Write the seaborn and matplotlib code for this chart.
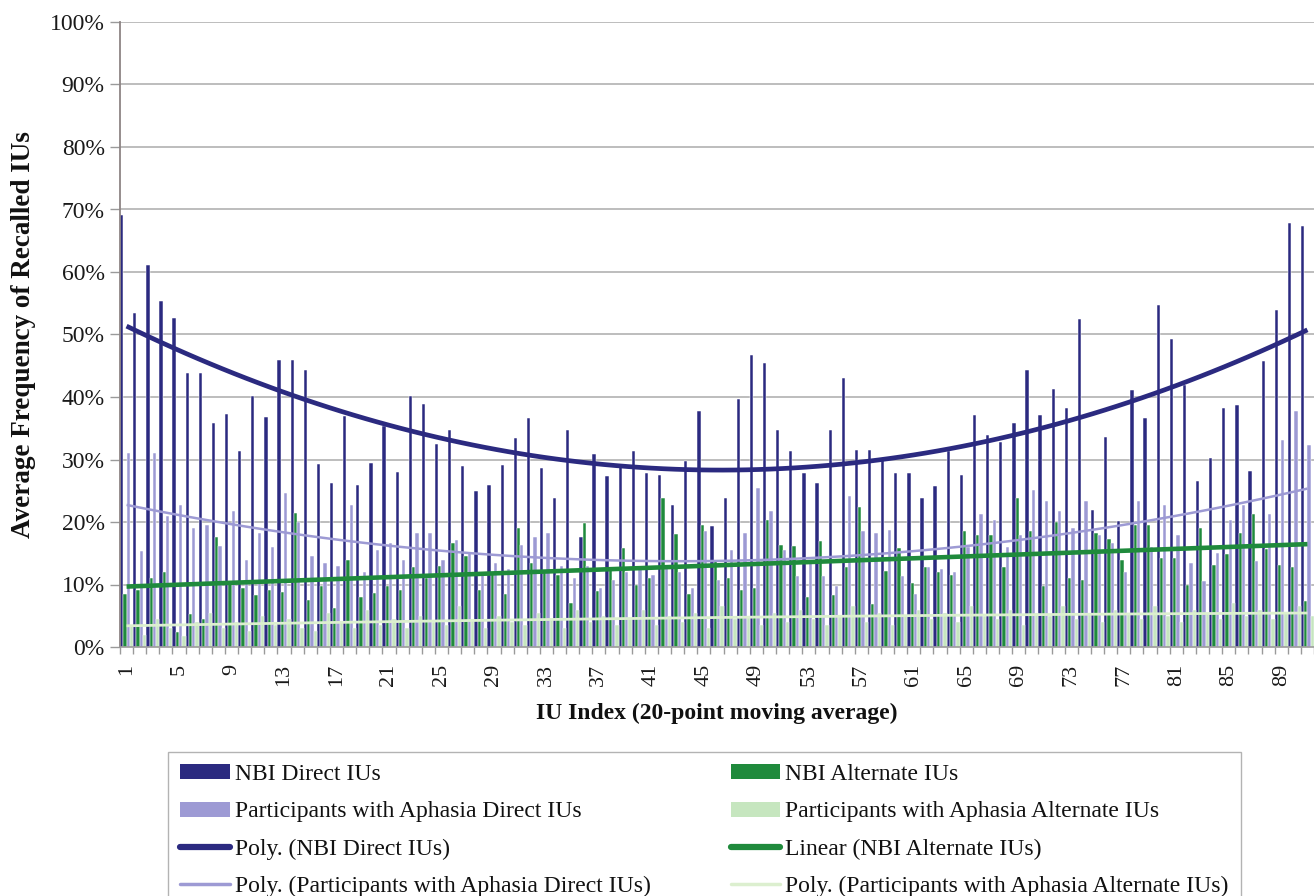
import numpy as np
import pandas as pd
import matplotlib
matplotlib.use("Agg")
import matplotlib.pyplot as plt
import seaborn as sns
from matplotlib.patches import Patch
from matplotlib.lines import Line2D
from matplotlib.ticker import FuncFormatter

# ---------------- data (values in %) ----------------
iu_index = list(range(1, 92))

nbi_direct = [
    69.1, 53.4, 61.1, 55.3, 52.6, 43.8, 43.9, 35.8, 37.2, 31.4,
    40.2, 36.8, 45.9, 45.9, 44.3, 29.3, 26.3, 37.0, 25.9, 29.4,
    35.3, 28.0, 40.2, 38.9, 32.5, 34.7, 28.9, 25.0, 25.9, 29.1,
    33.4, 36.6, 28.6, 23.9, 34.7, 17.6, 30.9, 27.4, 28.8, 31.3,
    27.9, 27.5, 22.7, 29.8, 37.7, 19.4, 23.8, 39.6, 46.7, 45.5,
    34.8, 31.3, 27.8, 26.3, 34.8, 43.1, 31.6, 31.5, 29.9, 27.9,
    27.9, 23.8, 25.8, 31.3, 27.5, 37.1, 33.9, 32.8, 35.8, 44.3,
    37.1, 41.2, 38.2, 52.5, 21.9, 33.6, 20.1, 41.1, 36.6, 54.7,
    49.2, 41.9, 26.6, 30.3, 38.2, 38.7, 28.1, 45.7, 53.9, 67.9,
    67.3,
]

nbi_alternate = [
    8.5, 9.1, 11.0, 12.0, 2.4, 5.3, 4.5, 17.6, 10.3, 9.4,
    8.3, 9.1, 8.8, 21.4, 7.5, 9.7, 6.3, 14.0, 8.0, 8.6,
    9.7, 9.1, 12.8, 11.0, 13.0, 16.6, 14.5, 9.1, 12.0, 8.5,
    19.0, 13.5, 12.0, 11.5, 7.0, 19.9, 9.0, 12.5, 15.8, 10.0,
    11.0, 23.8, 18.1, 8.5, 19.5, 14.0, 11.0, 9.1, 9.4, 20.3,
    16.4, 16.2, 8.0, 16.9, 8.3, 12.8, 22.4, 6.9, 12.1, 15.8,
    10.3, 12.8, 12.0, 11.5, 18.5, 18.0, 18.0, 12.8, 23.8, 18.5,
    9.7, 20.0, 11.0, 10.8, 18.2, 17.3, 13.9, 19.6, 19.5, 14.2,
    14.2, 9.9, 19.0, 13.1, 14.9, 18.2, 21.3, 15.7, 13.1, 12.8,
    7.4,
]

aphasia_direct = [
    31.0, 15.4, 31.0, 21.0, 22.7, 19.0, 19.5, 16.1, 21.7, 14.0,
    18.2, 16.0, 24.7, 20.0, 14.5, 13.5, 13.0, 22.7, 12.0, 15.5,
    16.6, 14.0, 18.3, 18.3, 14.0, 17.1, 15.0, 12.0, 13.5, 12.5,
    16.4, 17.6, 18.3, 13.0, 11.0, 13.0, 9.4, 10.8, 12.0, 12.5,
    11.5, 13.0, 12.0, 9.4, 18.5, 10.8, 15.6, 18.2, 25.4, 21.7,
    15.5, 11.3, 13.4, 11.3, 9.7, 24.2, 18.5, 18.2, 18.8, 11.3,
    8.5, 12.8, 12.5, 12.0, 16.0, 21.3, 20.3, 16.0, 18.0, 25.1,
    23.3, 21.7, 19.0, 23.3, 18.0, 16.7, 12.0, 23.3, 16.0, 22.7,
    17.9, 13.5, 10.5, 15.0, 20.3, 22.7, 13.7, 21.3, 33.1, 37.7,
    32.3,
]

aphasia_alternate = [
    3.5, 2.0, 4.5, 3.0, 1.8, 4.0, 5.5, 3.0, 4.0, 2.5,
    5.0, 3.5, 4.5, 3.0, 2.5, 5.5, 4.0, 3.0, 6.0, 3.5,
    4.5, 3.0, 5.0, 4.0, 3.5, 6.5, 4.5, 3.0, 5.0, 4.0,
    3.5, 5.5, 4.5, 3.0, 6.0, 4.0, 5.0, 3.5, 4.5, 6.0,
    3.5, 5.0, 4.0, 5.5, 3.0, 6.5, 4.5, 5.0, 3.5, 5.5,
    4.0, 6.0, 4.5, 3.5, 5.0, 6.5, 4.0, 5.5, 3.5, 5.0,
    6.0, 4.5, 5.5, 4.0, 6.5, 5.0, 4.5, 6.0, 3.5, 5.5,
    5.0, 6.5, 4.5, 5.5, 4.0, 6.0, 5.5, 4.5, 6.5, 5.0,
    4.0, 6.0, 5.5, 4.5, 7.0, 5.0, 6.0, 4.5, 5.5, 6.5,
    5.0,
]

series_names = [
    "NBI Direct IUs",
    "NBI Alternate IUs",
    "Participants with Aphasia Direct IUs",
    "Participants with Aphasia Alternate IUs",
]
trend_names = [
    "Poly. (NBI Direct IUs)",
    "Linear (NBI Alternate IUs)",
    "Poly. (Participants with Aphasia Direct IUs)",
    "Poly. (Participants with Aphasia Alternate IUs)",
]

c_navy = "#2B2A80"
c_green = "#1F8A3C"
c_lpurple = "#9D9AD4"
c_lgreen = "#C6E6BF"
c_lgreen_line = "#DCEFCF"
bar_colors = [c_navy, c_green, c_lpurple, c_lgreen]

# ---------------- style ----------------
sns.set_theme(style="white")
plt.rcParams["font.family"] = ["Liberation Serif", "DejaVu Serif"]

W, H = 1314, 896
fig = plt.figure(figsize=(W / 100, H / 100), dpi=100)
fig.patch.set_facecolor("white")
ax = fig.add_axes([120 / W, 1 - 647 / H, 1 - 120 / W, 625 / H])
ax.set_facecolor("white")

labels_str = [str(v) for v in iu_index]
df = pd.DataFrame({
    "IU": labels_str * 4,
    "series": sum([[n] * len(iu_index) for n in series_names], []),
    "value": nbi_direct + nbi_alternate + aphasia_direct + aphasia_alternate,
})

sns.barplot(
    data=df, x="IU", y="value", hue="series",
    order=labels_str, hue_order=series_names, palette=bar_colors,
    width=1.0, saturation=1, edgecolor="white", linewidth=0.35,
    errorbar=None, legend=False, ax=ax, zorder=2,
)

pos = np.arange(len(iu_index))
trend_specs = [
    (nbi_direct, 2, c_navy, 3.4),
    (nbi_alternate, 1, c_green, 3.3),
    (aphasia_direct, 2, c_lpurple, 1.8),
    (aphasia_alternate, 2, c_lgreen_line, 2.0),
]
for vals, order, col, lw in trend_specs:
    sns.regplot(
        x=pos, y=np.array(vals), order=order, ci=None, scatter=False,
        truncate=True, ax=ax,
        line_kws=dict(color=col, lw=lw, zorder=6, solid_capstyle="butt"),
    )

# ---------------- axes ----------------
ax.set_xlim(-0.5, 89.95)
ax.set_ylim(0, 100)
ax.set_yticks(np.arange(0, 101, 10))
ax.yaxis.set_major_formatter(FuncFormatter(lambda v, p: f"{v:.0f}%"))
ax.set_xticks(pos[::4])
ax.set_xticklabels(labels_str[::4], rotation=90, fontsize=16)
ax.set_xticks(np.arange(-0.5, len(iu_index) + 0.5, 1), minor=True)
ax.tick_params(axis="x", which="major", length=0, pad=12, colors="#1a1a1a")
ax.tick_params(axis="x", which="minor", length=5, width=1, color="#9a9a9a", bottom=True)
ax.tick_params(axis="y", which="major", length=7, width=1, color="#9a9a9a",
               left=True, labelsize=17, pad=4, labelcolor="#1a1a1a")

ax.yaxis.grid(True, color="#B8B8B8", lw=1.3)
ax.xaxis.grid(False)
ax.set_axisbelow(True)
for s in ["top", "right"]:
    ax.spines[s].set_visible(False)
ax.spines["left"].set_color("#8E8585")
ax.spines["left"].set_linewidth(1.3)
ax.spines["bottom"].set_color("#9a9a9a")
ax.spines["bottom"].set_linewidth(1.2)

ax.set_xlabel("IU Index (20-point moving average)", fontsize=17, fontweight="bold",
              labelpad=12, color="#111111")
ax.set_ylabel("Average Frequency of Recalled IUs", fontsize=19.5, fontweight="bold",
              labelpad=10, color="#111111")

# ---------------- legend ----------------
handles = [
    Patch(facecolor=c_navy, edgecolor="none"),
    Patch(facecolor=c_lpurple, edgecolor="none"),
    Line2D([], [], color=c_navy, lw=4.5),
    Line2D([], [], color=c_lpurple, lw=2.5),
    Patch(facecolor=c_green, edgecolor="none"),
    Patch(facecolor=c_lgreen, edgecolor="none"),
    Line2D([], [], color=c_green, lw=4.5),
    Line2D([], [], color=c_lgreen_line, lw=2.5),
]
leg_labels = [
    series_names[0], series_names[2], trend_names[0], trend_names[2],
    series_names[1], series_names[3], trend_names[1], trend_names[3],
]
leg = fig.legend(
    handles, leg_labels, ncol=2, loc="upper left",
    bbox_to_anchor=(168 / W, 1 - 752 / H), bbox_transform=fig.transFigure,
    frameon=True, fancybox=False, fontsize=17, handlelength=2.1,
    handleheight=0.6, handletextpad=0.2, columnspacing=3.4,
    labelspacing=0.68, borderpad=0.52, borderaxespad=0,
)
leg.get_frame().set_edgecolor("#A0A0A0")
leg.get_frame().set_linewidth(1.0)
for t in leg.get_texts():
    t.set_color("#111111")

fig.savefig("out.png", dpi=100)
